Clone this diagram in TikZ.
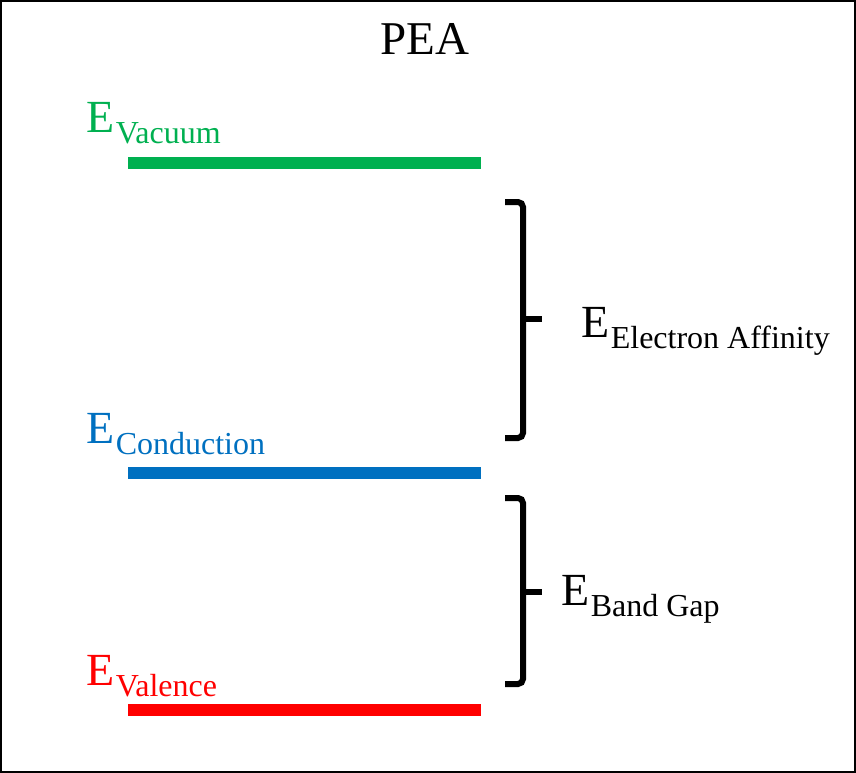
\documentclass[tikz,border=0pt]{standalone}
\usepackage{fontspec}
\setmainfont{Liberation Serif}
\usetikzlibrary{positioning}
\definecolor{vacgreen}{HTML}{00B050}
\definecolor{condblue}{HTML}{0070C0}
\definecolor{valred}{HTML}{FF0000}
\newcommand{\enlvl}[1]{E\kern1.5pt\lower11pt\hbox{\fontsize{32}{38}\selectfont #1}}
\tikzset{
  lvlline/.style  = {line width=12pt},
  lvllbl/.style   = {anchor=base west, inner sep=0pt,
                     font=\fontsize{46}{55}\selectfont},
  gapbrace/.style = {line width=6pt, rounded corners=5pt},
  gaptick/.style  = {line width=6pt}
}
\begin{document}
\begin{tikzpicture}[x=1pt, y=-1pt]
  \useasboundingbox (0,0) rectangle (856,773);
  \draw[line width=2pt] (1,1) rectangle (855,772);

  \node[anchor=base, inner sep=0pt, font=\fontsize{47}{56}\selectfont]
        (title) at (425,55) {PEA};

  % energy levels
  \coordinate (vacL)  at (128,163);  \coordinate (vacR)  at (481,163);
  \coordinate (condL) at (128,473);  \coordinate (condR) at (481,473);
  \coordinate (valL)  at (128,710);  \coordinate (valR)  at (481,710);
  \draw[lvlline, vacgreen] (vacL)  -- (vacR);
  \draw[lvlline, condblue] (condL) -- (condR);
  \draw[lvlline, valred]   (valL)  -- (valR);

  \node[lvllbl, text=vacgreen] (evac)  at (86,132) {\enlvl{Vacuum}};
  \node[lvllbl, text=condblue] (econd) at (86,443) {\enlvl{Conduction}};
  \node[lvllbl, text=valred]   (eval)  at (86,685) {\enlvl{Valence}};

  % brackets
  \draw[gapbrace] (505,202) -- (523,202) -- (523,438) -- (505,438);
  \draw[gaptick]  (523,319) -- (542,319);
  \draw[gapbrace] (505,498) -- (523,498) -- (523,684) -- (505,684);
  \draw[gaptick]  (523,592) -- (542,592);

  \node[lvllbl] (eaff) at (581,337) {\enlvl{Electron Affinity}};
  \node[lvllbl] (egap) at (561,605) {\enlvl{Band Gap}};
\end{tikzpicture}
\end{document}
